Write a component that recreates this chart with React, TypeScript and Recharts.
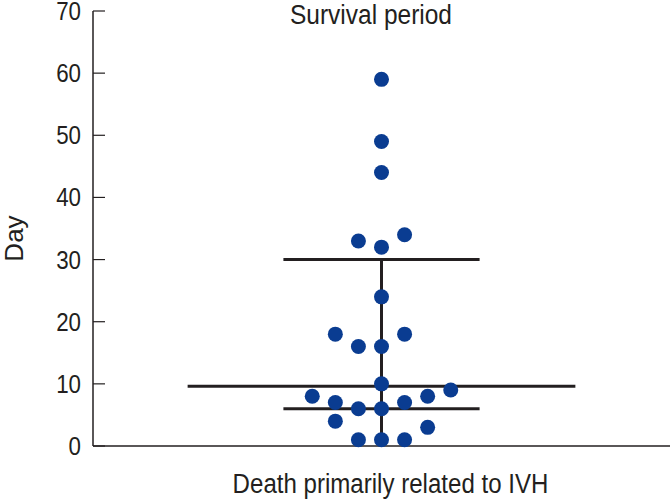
import React from "react";
import { ComposedChart, Scatter, XAxis, YAxis, Label } from "recharts";

const offsets = [0, 0, 0, -1, 0, 1, 0, -2, 1, -1, 0, 0, -3, -2, -1, 0, 1, 2, 3, -2, 2, -1, 0, 1];
const days = [59, 49, 44, 33, 32, 34, 24, 18, 18, 16, 16, 10, 8, 7, 6, 6, 7, 8, 9, 4, 3, 1, 1, 1];
const yTicks = [0, 10, 20, 30, 40, 50, 60, 70];
const meanValue = 9.6;
const medianValue = 6;
const upperValue = 30;
const meanHalfWidth = 8.4;
const barHalfWidth = 4.25;

const points = offsets.map((x, i) => ({ x, y: days[i] }));
const meanLine = [{ x: -meanHalfWidth, y: meanValue }, { x: meanHalfWidth, y: meanValue }];
const medianLine = [{ x: -barHalfWidth, y: medianValue }, { x: barHalfWidth, y: medianValue }];
const upperLine = [{ x: -barHalfWidth, y: upperValue }, { x: barHalfWidth, y: upperValue }];
const stemLine = [{ x: 0, y: 0 }, { x: 0, y: upperValue }];

const FONT = "'Liberation Sans Narrow', 'Liberation Sans', Arial, sans-serif";
const INK = "#231f20";
const DOT = "#0a3c91";

const Dot = (props: any) => <circle cx={props.cx} cy={props.cy} r={7.5} fill={DOT} />;
const NoShape = () => null;

const Condensed = ({ x, y, size, sx = 0.86, anchor = "middle", rotate = 0, children }: any) => (
  <text
    transform={`translate(${x},${y}) rotate(${rotate}) scale(${sx},1)`}
    x={0}
    y={0}
    textAnchor={anchor}
    fontFamily={FONT}
    fontSize={size}
    fill={INK}
  >
    {children}
  </text>
);

const YTick = (props: any) => (
  <Condensed x={props.x} y={props.y + 9} size={26} anchor="end">
    {props.payload.value}
  </Condensed>
);

export default function App() {
  return (
    <div style={{ position: "absolute", left: 0, top: 0, background: "#fff" }}>
      <ComposedChart width={672} height={501} margin={{ top: 11, right: 2, bottom: 0, left: 0 }}>
        <XAxis
          type="number"
          dataKey="x"
          domain={[-12.5, 12.5]}
          tick={false}
          tickLine={false}
          axisLine={{ stroke: INK, strokeWidth: 1.5 }}
          height={55}
        >
          <Label
            content={(p: any) => {
              const vb = p.viewBox;
              return (
                <Condensed x={vb.x + vb.width / 2 + 9} y={vb.y + 47} size={28}>
                  Death primarily related to IVH
                </Condensed>
              );
            }}
          />
        </XAxis>
        <YAxis
          type="number"
          dataKey="y"
          domain={[0, 70]}
          ticks={yTicks}
          interval={0}
          width={93}
          tickSize={-12}
          tickMargin={24}
          axisLine={{ stroke: INK, strokeWidth: 1.5 }}
          tickLine={{ stroke: INK, strokeWidth: 1.2 }}
          tick={YTick}
        >
          <Label
            content={(p: any) => {
              const vb = p.viewBox;
              return (
                <Condensed x={vb.x + 23} y={vb.y + vb.height / 2 + 10} size={26} sx={1} rotate={-90}>
                  Day
                </Condensed>
              );
            }}
          />
        </YAxis>
        <Scatter data={stemLine} line={{ stroke: INK, strokeWidth: 3 }} shape={NoShape} isAnimationActive={false} />
        <Scatter data={upperLine} line={{ stroke: INK, strokeWidth: 3 }} shape={NoShape} isAnimationActive={false} />
        <Scatter data={meanLine} line={{ stroke: INK, strokeWidth: 3 }} shape={NoShape} isAnimationActive={false} />
        <Scatter data={medianLine} line={{ stroke: INK, strokeWidth: 3 }} shape={NoShape} isAnimationActive={false} />
        <Scatter data={points} shape={Dot} isAnimationActive={false} />
        <Condensed x={371} y={24} size={28} sx={0.875}>
          Survival period
        </Condensed>
      </ComposedChart>
    </div>
  );
}
